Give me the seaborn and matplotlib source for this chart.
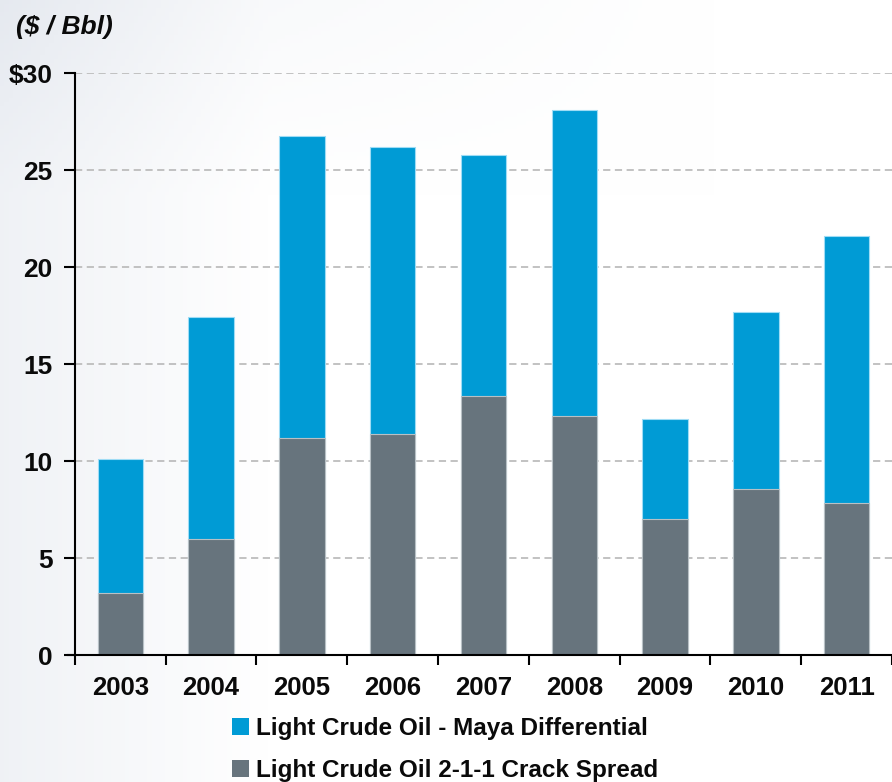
import numpy as np
import pandas as pd
import matplotlib
matplotlib.use("Agg")
import matplotlib.pyplot as plt
import seaborn as sns
from matplotlib.patches import Patch
from matplotlib.ticker import FixedLocator

years = ["2003", "2004", "2005", "2006", "2007", "2008", "2009", "2010", "2011"]
crack_spread = [3.2, 6.0, 11.2, 11.4, 13.35, 12.3, 7.0, 8.55, 7.85]
maya_diff = [6.9, 11.4, 15.55, 14.8, 12.45, 15.8, 5.15, 9.15, 13.75]
yticks = [0, 5, 10, 15, 20, 25, 30]
ytick_labels = ["0", "5", "10", "15", "20", "25", "$30"]
label_maya = "Light Crude Oil - Maya Differential"
label_crack = "Light Crude Oil 2-1-1 Crack Spread"
unit_label = "($ / Bbl)"

BLUE = "#009BD5"
GRAY = "#67747D"
TXT = "#0a0a0a"

df = pd.DataFrame({"year": years, "crack": crack_spread, "maya": maya_diff})
df["total"] = df["crack"] + df["maya"]

sns.set_theme(style="white")
plt.rcParams["font.family"] = ["Liberation Sans", "DejaVu Sans"]
plt.rcParams["font.weight"] = "bold"
plt.rcParams["text.color"] = TXT
plt.rcParams["xtick.color"] = TXT
plt.rcParams["ytick.color"] = TXT

fig = plt.figure(figsize=(8.92, 7.82), dpi=100)

# subtle background gradient
bg = fig.add_axes([0, 0, 1, 1], zorder=-10)
h, w = 200, 200
xx = np.linspace(0, 1, w)[None, :]
yy = np.linspace(0, 1, h)[:, None]
base = np.ones((h, w, 3))
tint = np.clip(1 - xx / 0.3, 0, 1) * 0.06 + np.clip(1 - yy / 0.25, 0, 1) * np.clip(1 - xx / 0.8, 0, 1) * 0.04
img = base.copy()
img[..., 0] -= tint * 1.0
img[..., 1] -= tint * 0.85
img[..., 2] -= tint * 0.6
bg.imshow(np.clip(img, 0, 1), aspect="auto", extent=[0, 1, 0, 1], origin="upper")
bg.axis("off")

ax = fig.add_axes([0.084, 0.1624, 0.916, 0.7442])
ax.patch.set_alpha(0)

sns.barplot(data=df, x="year", y="total", color=BLUE, width=0.5,
            edgecolor="#9fdcf5", linewidth=0.8, saturation=1, ax=ax, zorder=3)
sns.barplot(data=df, x="year", y="crack", color=GRAY, width=0.5,
            edgecolor="#b8c0c5", linewidth=0.8, saturation=1, ax=ax, zorder=4)

ax.set_xlim(-0.5, len(years) - 0.5)
ax.set_ylim(0, 30)
ax.set_yticks(yticks)
ax.set_yticklabels(ytick_labels, fontsize=19, fontweight="bold", color=TXT)
ax.set_xticks(range(len(years)))
ax.set_xticklabels(years, fontsize=18.5, fontweight="bold", color=TXT)
ax.xaxis.set_minor_locator(FixedLocator(np.arange(-0.5, len(years), 1.0)))
ax.tick_params(axis="x", which="major", length=0, pad=15)
ax.tick_params(axis="x", which="minor", length=7, width=1.5, direction="out", color="black", bottom=True)
ax.tick_params(axis="y", which="major", length=8, width=1.5, direction="out", color="black", left=True, pad=8)
ax.set_xlabel("")
ax.set_ylabel("")

ax.yaxis.grid(True, linestyle=(0, (4, 2.5)), color="#bdbdbd", linewidth=1.3, zorder=0)
ax.set_axisbelow(True)
for s in ["top", "right"]:
    ax.spines[s].set_visible(False)
for s in ["left", "bottom"]:
    ax.spines[s].set_color("black")
    ax.spines[s].set_linewidth(1.5)
ax.spines["bottom"].set_bounds(-0.58, len(years) - 0.5)
ax.spines["bottom"].set_zorder(5)

fig.text(0.018, 0.966, unit_label, fontsize=19, fontweight="bold", fontstyle="italic",
         ha="left", va="center", color=TXT)

handles = [Patch(facecolor=BLUE, edgecolor="none", label=label_maya),
           Patch(facecolor=GRAY, edgecolor="none", label=label_crack)]
leg = fig.legend(handles=handles, loc="center", bbox_to_anchor=(0.499, 0.0415),
                 ncol=1, frameon=False, handlelength=0.7, handleheight=0.7,
                 handletextpad=0.3, labelspacing=0.75, prop={"weight": "bold", "size": 17.5})
for t in leg.get_texts():
    t.set_color(TXT)

fig.savefig("out.png", dpi=100)
